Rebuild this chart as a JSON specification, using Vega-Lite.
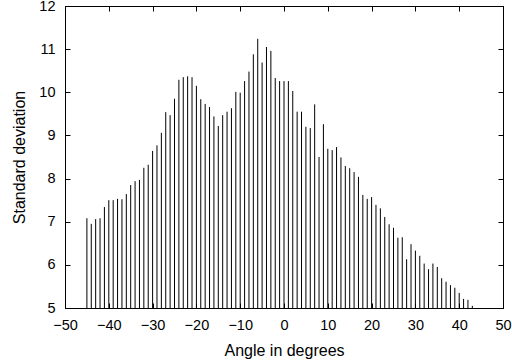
{
  "$schema": "https://vega.github.io/schema/vega-lite/v6.json",
  "autosize": {"type": "none"},
  "padding": {"left": 65, "top": 6, "right": 9, "bottom": 56},
  "width": 438,
  "height": 302,
  "config": {
    "font": "Liberation Sans",
    "view": {"stroke": "#000000", "strokeWidth": 1},
    "axis": {
      "domainColor": "#000000",
      "tickColor": "#000000",
      "labelColor": "#000000",
      "titleColor": "#000000",
      "grid": false,
      "labelFont": "Liberation Sans",
      "titleFont": "Liberation Sans",
      "labelFontSize": 14.5,
      "titleFontSize": 16,
      "titleFontWeight": "normal"
    }
  },
  "data": {
    "values": [
      {"angle": -45, "sd": 7.08}, {"angle": -44, "sd": 6.95}, {"angle": -43, "sd": 7.06},
      {"angle": -42, "sd": 7.08}, {"angle": -41, "sd": 7.34}, {"angle": -40, "sd": 7.5},
      {"angle": -39, "sd": 7.5}, {"angle": -38, "sd": 7.53}, {"angle": -37, "sd": 7.52},
      {"angle": -36, "sd": 7.64}, {"angle": -35, "sd": 7.85}, {"angle": -34, "sd": 7.94},
      {"angle": -33, "sd": 7.97}, {"angle": -32, "sd": 8.25}, {"angle": -31, "sd": 8.32},
      {"angle": -30, "sd": 8.64}, {"angle": -29, "sd": 8.77}, {"angle": -28, "sd": 9.06},
      {"angle": -27, "sd": 9.54}, {"angle": -26, "sd": 9.47}, {"angle": -25, "sd": 9.85},
      {"angle": -24, "sd": 10.29}, {"angle": -23, "sd": 10.35}, {"angle": -22, "sd": 10.37},
      {"angle": -21, "sd": 10.35}, {"angle": -20, "sd": 10.15}, {"angle": -19, "sd": 9.84},
      {"angle": -18, "sd": 9.73}, {"angle": -17, "sd": 9.66}, {"angle": -16, "sd": 9.44},
      {"angle": -15, "sd": 9.22}, {"angle": -14, "sd": 9.47}, {"angle": -13, "sd": 9.55},
      {"angle": -12, "sd": 9.63}, {"angle": -11, "sd": 10.01}, {"angle": -10, "sd": 9.99},
      {"angle": -9, "sd": 10.26}, {"angle": -8, "sd": 10.48}, {"angle": -7, "sd": 10.88},
      {"angle": -6, "sd": 11.24}, {"angle": -5, "sd": 10.69}, {"angle": -4, "sd": 11.05},
      {"angle": -3, "sd": 10.96}, {"angle": -2, "sd": 10.33}, {"angle": -1, "sd": 10.26},
      {"angle": 0, "sd": 10.26}, {"angle": 1, "sd": 10.26}, {"angle": 2, "sd": 10.03},
      {"angle": 3, "sd": 9.55}, {"angle": 4, "sd": 9.55}, {"angle": 5, "sd": 9.2},
      {"angle": 6, "sd": 9.17}, {"angle": 7, "sd": 9.72}, {"angle": 8, "sd": 8.5},
      {"angle": 9, "sd": 9.26}, {"angle": 10, "sd": 8.69}, {"angle": 11, "sd": 8.66},
      {"angle": 12, "sd": 8.73}, {"angle": 13, "sd": 8.49}, {"angle": 14, "sd": 8.29},
      {"angle": 15, "sd": 8.24}, {"angle": 16, "sd": 8.15}, {"angle": 17, "sd": 8.04},
      {"angle": 18, "sd": 7.62}, {"angle": 19, "sd": 7.53}, {"angle": 20, "sd": 7.57},
      {"angle": 21, "sd": 7.39}, {"angle": 22, "sd": 7.31}, {"angle": 23, "sd": 7.11},
      {"angle": 24, "sd": 6.94}, {"angle": 25, "sd": 6.86}, {"angle": 26, "sd": 6.63},
      {"angle": 27, "sd": 6.64}, {"angle": 28, "sd": 6.13}, {"angle": 29, "sd": 6.48},
      {"angle": 30, "sd": 6.33}, {"angle": 31, "sd": 6.21}, {"angle": 32, "sd": 6.03},
      {"angle": 33, "sd": 5.9}, {"angle": 34, "sd": 6.03}, {"angle": 35, "sd": 5.95},
      {"angle": 36, "sd": 5.69}, {"angle": 37, "sd": 5.61}, {"angle": 38, "sd": 5.53},
      {"angle": 39, "sd": 5.47}, {"angle": 40, "sd": 5.35}, {"angle": 41, "sd": 5.21},
      {"angle": 42, "sd": 5.19}, {"angle": 43, "sd": 5.05}
    ]
  },
  "resolve": {"axis": {"x": "independent", "y": "independent"}},
  "layer": [
    {
      "mark": {"type": "rule", "color": "#000000", "strokeWidth": 1},
      "encoding": {
        "x": {
          "field": "angle",
          "type": "quantitative",
          "scale": {"domain": [-50, 50], "nice": false, "zero": false},
          "axis": {
            "orient": "bottom",
            "title": "Angle in degrees",
            "values": [-50, -40, -30, -20, -10, 0, 10, 20, 30, 40, 50],
            "tickSize": -5,
            "labelPadding": 15.5,
            "labelFlush": false,
            "labelOverlap": false,
            "titleBaseline": "alphabetic",
            "titleY": 47
          }
        },
        "y": {
          "field": "sd",
          "type": "quantitative",
          "scale": {"domain": [5, 12], "nice": false, "zero": false},
          "axis": {
            "orient": "left",
            "title": "Standard deviation",
            "values": [5, 6, 7, 8, 9, 10, 11, 12],
            "tickSize": -5,
            "labelPadding": 15,
            "labelFlush": false,
            "labelOverlap": false,
            "titleBaseline": "alphabetic",
            "titleX": -41
          }
        },
        "y2": {"datum": 5}
      }
    },
    {
      "mark": {"type": "rule", "opacity": 0},
      "encoding": {
        "x": {
          "field": "angle",
          "type": "quantitative",
          "axis": {
            "orient": "top",
            "title": null,
            "labels": false,
            "values": [-50, -40, -30, -20, -10, 0, 10, 20, 30, 40, 50],
            "tickSize": -5
          }
        },
        "y": {
          "field": "sd",
          "type": "quantitative",
          "axis": {
            "orient": "right",
            "title": null,
            "labels": false,
            "values": [5, 6, 7, 8, 9, 10, 11, 12],
            "tickSize": -5
          }
        },
        "y2": {"datum": 5}
      }
    }
  ]
}
